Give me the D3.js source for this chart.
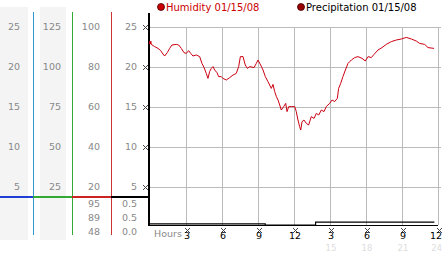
<!DOCTYPE html>
<html>
<head>
<meta charset="utf-8">
<script src="https://cdn.jsdelivr.net/npm/d3@7"></script>
<style>
  body { margin: 0; background: #fff; }
  svg { display: block; font-family: "DejaVu Sans", Verdana, sans-serif; }
</style>
</head>
<body>
<div id="chart"></div>
<script>
// humidity readings (hour of day, %)
const hours = [0, 0.17, 0.39, 0.67, 0.89, 1.08, 1.22, 1.44, 1.64, 1.83, 2.19, 2.39, 2.61, 2.83, 3.03, 3.22, 3.39, 3.58, 3.86, 4.14,
  4.33, 4.5, 4.69, 4.83, 4.97, 5.11, 5.25, 5.39, 5.58, 5.72, 5.94, 6.08, 6.36, 6.64, 6.92, 7.19, 7.39, 7.53, 7.75, 7.94,
  8.11, 8.31, 8.67, 8.86, 9.0, 9.22, 9.42, 9.61, 9.83, 9.97, 10.11, 10.25, 10.39, 10.53, 10.67, 10.81, 10.94, 11.14, 11.31, 11.42,
  11.56, 11.78, 12.06, 12.19, 12.33, 12.47, 12.56, 12.67, 12.83, 13.03, 13.22, 13.44, 13.67, 13.86, 14.06, 14.28, 14.5, 14.69, 14.97, 15.17,
  15.39, 15.61, 15.72, 15.89, 16.08, 16.28, 16.5, 16.78, 17.06, 17.33, 17.67, 17.94, 18.17, 18.44, 18.67, 19.0, 19.33, 19.69, 20.11, 20.53,
  20.94, 21.36, 21.78, 22.19, 22.47, 22.89, 23.17, 23.67];
const humidity = [92.2, 91, 90.2, 89.3, 88.2, 86.5, 85.5, 87.2, 89.3, 91, 91.3, 91, 89.3, 87.2, 86.8, 88.2, 86.8, 85.5, 86, 85.2,
  81.8, 79.8, 76.8, 74.3, 77.7, 79.3, 80.2, 78.5, 77.2, 75.2, 75.2, 74.3, 73.5, 74.7, 76, 76.8, 80.2, 85.2, 85.2, 81,
  79.3, 80.2, 79.7, 81.8, 83.5, 81, 78.5, 75.2, 72.7, 71, 69.3, 71.3, 67.7, 65.2, 63.5, 61, 58.5, 60.2, 61.8, 57.7,
  60.2, 60.2, 60.2, 57.7, 53.5, 50.2, 48.5, 52.7, 53.5, 51.8, 51, 55.2, 54.3, 56.8, 56, 58.5, 57.7, 60.2, 61.8, 63.5,
  62.7, 64.3, 69.3, 71.8, 75.2, 78.5, 81.8, 83.5, 84.7, 85.2, 84.3, 83, 85.2, 84.7, 86.3, 88.5, 89.7, 91.3, 92.7, 93.5,
  94, 94.8, 94, 93, 91.8, 91.3, 89.7, 89.3];

// precipitation (inches), stepped
const precipHours = [0, 9.6, 13.8, 23.7];
const precipValues = [0.02, 0, 0.05, 0.05];

const hourTicks = [3, 6, 9, 12, 15, 18, 21, 24];
const hourLabels = ["3", "6", "9", "12", "3", "6", "9", "12"];
const laterLabels = ["15", "18", "21", "24"];

const col1Ticks = [5, 10, 15, 20, 25];
const col2Ticks = [25, 50, 75, 100, 125];
const humTicks = [20, 40, 60, 80, 100];
const col4Ticks = [5, 10, 15, 20, 25];

const humStats = ["95", "89", "48"];
const precipStats = ["0.5", "0.5", "0.0"];

const W = 442, H = 253;

const svg = d3.select('#chart').append('svg')
  .attr('width', W)
  .attr('height', H);

const x = d3.scaleLinear().domain([0, 24]).range([150, 438]);
const yHum = d3.scaleLinear().domain([20, 100]).range([187, 27]);
const yCol1 = d3.scaleLinear().domain([5, 25]).range([187, 27]);
const yCol2 = d3.scaleLinear().domain([25, 125]).range([187, 27]);
const yPrecip = d3.scaleLinear().domain([0, 0.5]).range([225, 197]);

// little dotted-x tick marker, like the original's bitmap glyph
const markerDots = [[-2, -2], [2, -2], [-1, -1], [1, -1], [0, 0], [-1, 1], [1, 1], [-2, 2], [2, 2]];
function marker(g, cx, cy) {
  g.append('g')
    .attr('transform', `translate(${Math.round(cx)}, ${Math.round(cy)})`)
    .selectAll('rect')
    .data(markerDots)
    .enter()
    .append('rect')
    .attr('x', d => d[0]).attr('y', d => d[1])
    .attr('width', 1).attr('height', 1)
    .attr('fill', '#444');
}

// shaded label columns
svg.append('rect').attr('x', 0).attr('y', 7).attr('width', 28).attr('height', 233).attr('fill', '#f4f4f4');
svg.append('rect').attr('x', 40).attr('y', 7).attr('width', 26).attr('height', 233).attr('fill', '#f4f4f4');

// grid
svg.append('g')
  .selectAll('line')
  .data(humTicks)
  .enter()
  .append('line')
  .attr('x1', 150).attr('x2', 441)
  .attr('y1', d => yHum(d) + 0.5).attr('y2', d => yHum(d) + 0.5)
  .attr('stroke', '#bbb');

svg.append('g')
  .selectAll('line')
  .data(hourTicks)
  .enter()
  .append('line')
  .attr('x1', d => x(d) + 0.5).attr('x2', d => x(d) + 0.5)
  .attr('y1', 27).attr('y2', 225)
  .attr('stroke', '#bbb');

// coloured column separators
const seps = [{ x: 33, c: '#3399cc' }, { x: 72, c: '#33aa33' }, { x: 111, c: '#cc3333' }];
svg.append('g')
  .selectAll('line')
  .data(seps)
  .enter()
  .append('line')
  .attr('x1', d => d.x + 0.5).attr('x2', d => d.x + 0.5)
  .attr('y1', 12).attr('y2', 235)
  .attr('stroke', d => d.c);

const hsegs = [{ a: 0, b: 33, c: '#1f3fd6' }, { a: 33, b: 72, c: '#33aa33' }, { a: 72, b: 111, c: '#cc2222' }, { a: 111, b: 150, c: '#000' }];
svg.append('g')
  .selectAll('line')
  .data(hsegs)
  .enter()
  .append('line')
  .attr('x1', d => d.a).attr('x2', d => d.b)
  .attr('y1', 197).attr('y2', 197)
  .attr('stroke', d => d.c)
  .attr('stroke-width', 2);

// left label columns
function column(ticks, scale, xr) {
  svg.append('g')
    .attr('font-size', '9.5px')
    .attr('fill', '#888')
    .attr('text-anchor', 'end')
    .selectAll('text')
    .data(ticks)
    .enter()
    .append('text')
    .attr('x', xr)
    .attr('y', d => scale(d))
    .attr('dy', '0.36em')
    .text(d => d);
}
column(col1Ticks, yCol1, 20);
column(col2Ticks, yCol2, 61);
column(humTicks, yHum, 100);
column(col4Ticks, yCol1, 137);

// current stats under the separator
svg.append('g')
  .attr('font-size', '9.5px').attr('fill', '#888').attr('text-anchor', 'end')
  .selectAll('text').data(humStats).enter().append('text')
  .attr('x', 100).attr('y', (d, i) => 204 + i * 14).attr('dy', '0.36em')
  .text(d => d);
svg.append('g')
  .attr('font-size', '9.5px').attr('fill', '#888').attr('text-anchor', 'end')
  .selectAll('text').data(precipStats).enter().append('text')
  .attr('x', 137).attr('y', (d, i) => 204 + i * 14).attr('dy', '0.36em')
  .text(d => d);

// tick markers on the plot axis
const ym = svg.append('g');
humTicks.forEach(d => marker(ym, 145, yHum(d)));

// main axes
svg.append('line').attr('x1', 149).attr('x2', 149).attr('y1', 13).attr('y2', 226)
  .attr('stroke', '#000').attr('stroke-width', 2);
svg.append('line').attr('x1', 148).attr('x2', 438).attr('y1', 225.5).attr('y2', 225.5)
  .attr('stroke', '#000');

// x labels
const last = hourTicks.length - 1;
const xm = svg.append('g');
hourTicks.forEach(d => marker(xm, x(d) + 1, 230));
const xl = svg.append('g');
xl.selectAll('.hl').data(hourTicks).enter().append('text')
  .attr('class', 'hl')
  .attr('font-size', '9.5px')
  .attr('text-anchor', (d, i) => i === last ? 'end' : 'middle')
  .attr('x', (d, i) => i === last ? 442 : x(d) + 1).attr('y', 239)
  .text((d, i) => hourLabels[i]);
xl.selectAll('.ll').data(laterLabels).enter().append('text')
  .attr('class', 'll')
  .attr('font-size', '8.5px')
  .attr('fill', '#ddd')
  .attr('text-anchor', (d, i) => i === 3 ? 'end' : 'middle')
  .attr('x', (d, i) => i === 3 ? 442 : x(hourTicks[i + 4]) + 1).attr('y', 251)
  .text(d => d);
svg.append('text')
  .attr('x', 154).attr('y', 237)
  .attr('font-size', '9.5px').attr('fill', '#888')
  .text('Hours');

// precipitation
const precipLine = d3.line()
  .x((d, i) => x(precipHours[i]))
  .y(d => yPrecip(d))
  .curve(d3.curveStepAfter);
svg.append('path')
  .attr('d', precipLine(precipValues))
  .attr('fill', 'none')
  .attr('stroke', '#000')
  .attr('stroke-width', 1.2);

// humidity
const humLine = d3.line()
  .x((d, i) => x(hours[i]))
  .y(d => yHum(d));
svg.append('path')
  .attr('d', humLine(humidity))
  .attr('fill', 'none')
  .attr('stroke', '#cc0011')
  .attr('stroke-width', 1);
svg.append('rect')
  .attr('x', x(hours[0]) - 1).attr('y', yHum(humidity[0]) - 1.5)
  .attr('width', 2.5).attr('height', 3)
  .attr('fill', '#cc0011');

// legend
const legend = [
  { label: 'Humidity 01/15/08', dot: '#cc0000', text: '#cc0000', x: 161 },
  { label: 'Precipitation 01/15/08', dot: '#990000', text: '#000', x: 301 }
];
const lg = svg.append('g').selectAll('g').data(legend).enter().append('g');
lg.append('circle')
  .attr('cx', d => d.x).attr('cy', 7).attr('r', 3.5)
  .attr('fill', d => d.dot).attr('stroke', '#400').attr('stroke-width', 0.8);
lg.append('text')
  .attr('x', d => d.x + 5).attr('y', 11)
  .attr('font-size', '10px')
  .attr('fill', d => d.text)
  .text(d => d.label);
</script>
</body>
</html>
